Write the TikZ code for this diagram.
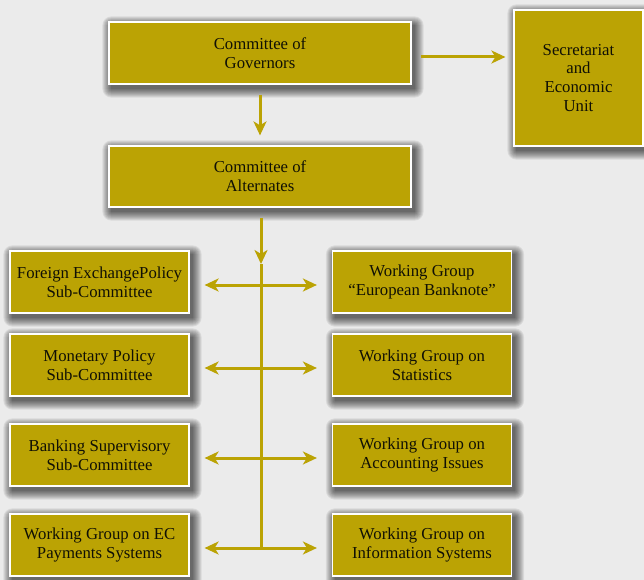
\documentclass[tikz,border=0pt]{standalone}
\usepackage{fontspec}
\setmainfont{Liberation Serif}
\usetikzlibrary{arrows.meta,calc}
\definecolor{gold}{HTML}{BBA304}
\definecolor{bg}{HTML}{EBEBEB}
\definecolor{ink}{HTML}{101005}
\pgfdeclarelayer{bglayer}
\pgfdeclarelayer{shadowlayer}
\pgfsetlayers{bglayer,shadowlayer,main}
\begin{document}
\begin{tikzpicture}[x=1bp,y=-1bp,
  box/.style={draw=white, line width=1.2bp, fill=gold, text=ink, align=center,
    inner sep=0pt, font=\fontsize{16.8}{19}\selectfont},
  lbox/.style={box, minimum width=179bp, minimum height=62bp},
  conn/.style={draw=gold, line width=3bp},
  shadowpiece/.style={fill=black, fill opacity=0.075, draw=none},
  tip/.style={-{Stealth[length=14bp,width=13bp,inset=4bp]}},
  btip/.style={{Stealth[length=14bp,width=13bp,inset=4bp]}-{Stealth[length=14bp,width=13bp,inset=4bp]}}
]
\begin{pgfonlayer}{bglayer}
\fill[bg] (0,0) rectangle (644,580);
\end{pgfonlayer}
\useasboundingbox (0,0) rectangle (644,580);

\node[box, minimum width=302bp, minimum height=62bp] (gov) at (260,53) {Committee of\\Governors};
\node[box, minimum width=129bp, minimum height=136bp] (sec) at (578.5,78) {Secretariat\\and\\Economic\\Unit};
\node[box, minimum width=302bp, minimum height=61bp] (alt) at (260,176.5) {Committee of\\Alternates};

\node[lbox] (l1) at (99.5,282) {Foreign ExchangePolicy\\Sub-Committee};
\node[lbox] (l2) at (99.5,365) {Monetary Policy\\Sub-Committee};
\node[lbox] (l3) at (99.5,455) {Banking Supervisory\\Sub-Committee};
\node[lbox] (l4) at (99.5,545) {Working Group on EC\\Payments Systems};

\node[lbox] (r1) at (422,282) {Working Group\\``European Banknote''};
\node[lbox] (r2) at (422,365) {Working Group on\\Statistics};
\node[lbox] (r3) at (422,455) {Working Group on\\Accounting Issues};
\node[lbox] (r4) at (422,545) {Working Group on\\Information Systems};

% soft shadows
\begin{pgfonlayer}{shadowlayer}
\foreach \n in {gov,sec,alt,l1,l2,l3,l4,r1,r2,r3,r4}{
  \foreach \k in {0,1,...,9}{
    \fill[shadowpiece, rounded corners=\k bp]
      ($(\n.north west)+(3-\k,4-\k)$) rectangle ($(\n.south east)+(3+\k,4+\k)$);
  }
}
\end{pgfonlayer}

% connectors
\coordinate (gA) at ($(gov.east)+(9,4)$);
\coordinate (sA) at ($(sec.west |- gA)+(-8,0)$);
\draw[conn, tip] (gA) -- (sA);

\draw[conn, tip, shorten <=10bp, shorten >=10bp] (gov.south) -- (alt.north);

\coordinate (tA) at ($(alt.south)+(1,10)$);
\coordinate (tB) at (261,264);
\coordinate (tEnd) at (261,549);
\draw[conn, tip] (tA) -- (tB);
\draw[conn] (tB) -- (tEnd);

\foreach \i in {1,2,3,4}{
  \draw[conn, btip, shorten <=15bp, shorten >=15bp] ($(l\i.east)+(0,3)$) -- ($(r\i.west)+(0,3)$);
}
\end{tikzpicture}
\end{document}
